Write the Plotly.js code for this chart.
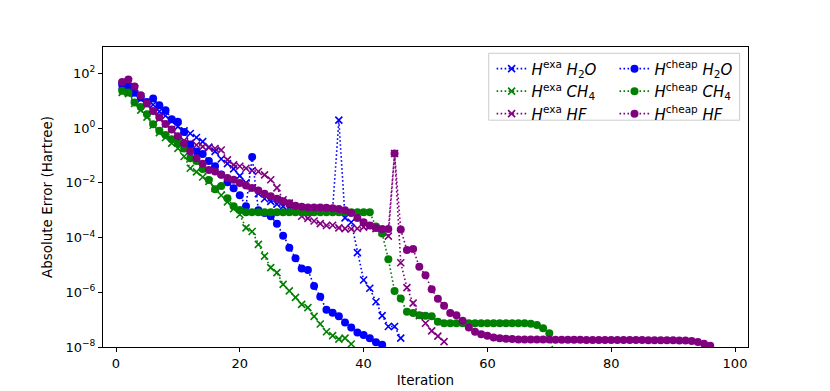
<!DOCTYPE html>
<html>
<head>
<meta charset="utf-8">
<script src="https://cdn.plot.ly/plotly-3.0.1.min.js"></script>
<style>
  html, body { margin: 0; padding: 0; background: #fff; }
  #chart { width: 830px; height: 391px; }
</style>
</head>
<body>
<div id="chart"></div>
<script>
// absolute error per iteration (starts at iteration 1)
var exaH2O = [35, 32, 17.8, 11.2, 7.9, 7.1, 4.0, 2.8, 1.78, 1.12,
  0.79, 0.63, 0.45, 0.32, 0.2, 0.14, 0.074, 0.05, 0.032, 0.0178,
  0.01, 0.0063, 0.004, 0.0026, 0.0021, 0.00166, 0.00138, 0.00126, 0.0012, 0.00117,
  0.00115, 0.00112, 0.0011, 0.00107, 0.00105, 1.95, 5.2e-4, 3.6e-4, 2.8e-5, 2.8e-6,
  1.4e-6, 4.5e-7, 1.4e-7, 5.6e-8, 5.6e-8, 2.1e-8];

var exaCH4 = [20, 17.8, 7.9, 4.5, 2.5, 1.26, 0.68, 0.45, 0.28, 0.18,
  0.091, 0.034, 0.025, 0.0162, 0.0112, 0.0063, 0.0035, 0.002, 0.00112, 6.9e-4,
  2.24e-4, 1.66e-4, 5.6e-5, 2.1e-5, 7.9e-6, 5.2e-6, 1.95e-6, 1.12e-6, 6.5e-7, 3.6e-7,
  2.75e-7, 1.32e-7, 6.9e-8, 3.6e-8, 2.6e-8, 1.95e-8, 2.1e-8, 1.29e-8];

var exaHF = [40, 50, 28, 14, 7.1, 4.0, 2.2, 1.4, 0.89, 0.5,
  0.35, 0.28, 0.24, 0.21, 0.19, 0.178, 0.158, 0.069, 0.045, 0.04,
  0.034, 0.028, 0.0257, 0.0195, 0.0129, 0.0065, 0.0024, 0.0018, 9.1e-4, 6.0e-4,
  5.0e-4, 4.0e-4, 3.2e-4, 2.75e-4, 2.8e-4, 2.24e-4, 2.1e-4, 2.04e-4, 2.14e-4, 2.4e-4,
  2.6e-4, 2.1e-4, 1.58e-4, 1.12e-4, 0.117, 1.2e-5, 1.48e-6, 4.0e-7, 1.38e-7, 7.4e-8,
  3.9e-8, 2.5e-8, 1.58e-8];

var cheapH2O = [40, 36, 19.5, 12.9, 8.9, 12, 6.8, 4.5, 2.1, 1.7,
  0.72, 0.25, 0.138, 0.112, 0.063, 0.04, 0.02, 0.0105, 0.0063, 0.0035,
  0.0014, 0.087, 1.0e-3, 7.9e-4, 6.0e-4, 3.2e-4, 1.17e-4, 4.2e-5, 1.74e-5, 7.4e-6,
  6.5e-6, 1.7e-6, 6.8e-7, 2.3e-7, 1.8e-7, 1.32e-7, 7.9e-8, 5.2e-8, 3.4e-8, 2.75e-8,
  2.1e-8, 1.48e-8, 1.2e-8];

var cheapCH4 = [23, 20, 8.5, 5.9, 3.2, 1.38, 0.79, 0.56, 0.39, 0.275,
  0.18, 0.079, 0.063, 0.032, 0.0126, 0.0058, 0.0076, 0.0027, 0.0014, 1.02e-3,
  8.3e-4, 8.3e-4, 8.3e-4, 8.3e-4, 8.3e-4, 8.3e-4, 8.3e-4, 8.3e-4, 8.3e-4, 8.3e-4,
  8.3e-4, 8.3e-4, 8.3e-4, 8.3e-4, 8.3e-4, 8.3e-4, 8.3e-4, 8.3e-4, 8.3e-4, 8.3e-4,
  8.3e-4, 2.5e-4, 1.4e-4, 1.6e-5, 1.12e-6, 5.9e-7, 1.95e-7, 1.74e-7, 1.45e-7, 1.38e-7,
  1.32e-7, 8.3e-8, 7.4e-8, 7.4e-8, 7.4e-8, 7.4e-8, 7.4e-8, 7.4e-8, 7.4e-8, 7.4e-8,
  7.4e-8, 7.4e-8, 7.4e-8, 7.4e-8, 7.4e-8, 7.4e-8, 7.1e-8, 6.3e-8, 4.8e-8, 3.2e-8,
  3e-9];

var cheapHF = [48, 59, 33, 15.8, 7.9, 4.2, 2.5, 1.4, 0.89, 0.5,
  0.275, 0.138, 0.079, 0.049, 0.0295, 0.0257, 0.0195, 0.0148, 0.0129, 0.0098,
  0.0079, 0.0065, 0.0052, 0.004, 0.0032, 0.0026, 0.0021, 0.0018, 0.00145, 0.00132,
  0.00126, 0.00126, 0.00125, 0.00123, 0.00117, 0.0011, 0.001, 7.9e-4, 5.2e-4, 3.6e-4,
  2.75e-4, 2.24e-4, 2.04e-4, 2.04e-4, 0.117, 1.95e-4, 3.5e-5, 3.8e-5, 8.5e-6, 4.2e-6,
  1.29e-6, 5.8e-7, 3.2e-7, 1.74e-7, 1.45e-7, 9.1e-8, 5.2e-8, 3.6e-8, 2.95e-8, 2.6e-8,
  2.24e-8, 2.1e-8, 2.0e-8, 1.95e-8, 1.86e-8, 1.86e-8, 1.86e-8, 1.86e-8, 1.86e-8, 1.86e-8,
  1.84e-8, 1.84e-8, 1.84e-8, 1.84e-8, 1.84e-8, 1.82e-8, 1.82e-8, 1.82e-8, 1.82e-8, 1.82e-8,
  1.8e-8, 1.8e-8, 1.8e-8, 1.8e-8, 1.8e-8, 1.78e-8, 1.78e-8, 1.78e-8, 1.78e-8, 1.76e-8,
  1.74e-8, 1.72e-8, 1.66e-8, 1.51e-8, 1.32e-8, 1.1e-8];

var xTicks = [0, 20, 40, 60, 80, 100];
var yTicks = [1e-8, 1e-6, 1e-4, 1e-2, 1, 1e2];
var yTickText = ['10<sup>\u22128</sup>', '10<sup>\u22126</sup>', '10<sup>\u22124</sup>',
  '10<sup>\u22122</sup>', '10<sup>0</sup>', '10<sup>2</sup>'];

var BLUE = '#0000ff', GREEN = '#008000', PURPLE = '#800080';
var FONT = 'DejaVu Sans, Verdana, sans-serif';

function iters(vals) {
  var out = [];
  for (var i = 0; i < vals.length; i++) out.push(i + 1);
  return out;
}

function exaTrace(vals, color, name) {
  return {
    x: iters(vals), y: vals, name: name, legend: 'legend',
    type: 'scatter', mode: 'lines+markers', cliponaxis: true,
    line: {color: color, width: 1.6, dash: '1.6px,2.4px'},
    marker: {symbol: 'x-thin', size: 7, color: color, line: {color: color, width: 1.6}}
  };
}

function cheapTrace(vals, color, name) {
  return {
    x: iters(vals), y: vals, name: name, legend: 'legend2',
    type: 'scatter', mode: 'lines+markers', cliponaxis: true,
    line: {color: color, width: 1.6, dash: '1.6px,2.4px'},
    marker: {symbol: 'circle', size: 8, color: color, line: {width: 0}}
  };
}

var data = [
  exaTrace(exaH2O, BLUE, '<i>H</i><sup>exa</sup> <i>H</i><sub>2</sub><i>O</i>'),
  exaTrace(exaCH4, GREEN, '<i>H</i><sup>exa</sup> <i>CH</i><sub>4</sub>'),
  exaTrace(exaHF, PURPLE, '<i>H</i><sup>exa</sup> <i>HF</i>'),
  cheapTrace(cheapH2O, BLUE, '<i>H</i><sup>cheap</sup> <i>H</i><sub>2</sub><i>O</i>'),
  cheapTrace(cheapCH4, GREEN, '<i>H</i><sup>cheap</sup> <i>CH</i><sub>4</sub>'),
  cheapTrace(cheapHF, PURPLE, '<i>H</i><sup>cheap</sup> <i>HF</i>')
];

var axisCommon = {
  showline: true, linecolor: '#000', linewidth: 1, mirror: true,
  ticks: 'outside', ticklen: 4, tickwidth: 1, tickcolor: '#000',
  showgrid: false, zeroline: false,
  tickfont: {family: FONT, size: 13, color: '#000'}
};

var layout = {
  width: 830, height: 391,
  margin: {l: 103, r: 82, t: 47, b: 44},
  paper_bgcolor: '#fff', plot_bgcolor: '#fff',
  font: {family: FONT, size: 13, color: '#000'},
  showlegend: true,
  xaxis: Object.assign({}, axisCommon, {
    range: [-2.1, 102.1], tickvals: xTicks,
    title: {text: 'Iteration', font: {family: FONT, size: 13.5}, standoff: 5}
  }),
  yaxis: Object.assign({}, axisCommon, {
    type: 'log', range: [-8, 2.96], tickvals: yTicks, ticktext: yTickText,
    title: {text: 'Absolute Error (Hartree)', font: {family: FONT, size: 13.5}, standoff: 9}
  }),
  legend: {
    x: 0.6025, y: 0.982, xanchor: 'left', yanchor: 'top',
    bgcolor: 'rgba(0,0,0,0)', borderwidth: 0, tracegroupgap: 0,
    font: {family: FONT, size: 15, color: '#000'}
  },
  legend2: {
    x: 0.793, y: 0.982, xanchor: 'left', yanchor: 'top',
    bgcolor: 'rgba(0,0,0,0)', borderwidth: 0, tracegroupgap: 0,
    font: {family: FONT, size: 15, color: '#000'}
  },
  shapes: [{
    type: 'rect', xref: 'paper', yref: 'paper', layer: 'above',
    x0: 0.598, x1: 0.987, y0: 0.756, y1: 0.979,
    line: {color: '#cccccc', width: 1}, fillcolor: 'rgba(255,255,255,0.8)'
  }]
};

Plotly.newPlot('chart', data, layout, {displayModeBar: false, staticPlot: true});
</script>
</body>
</html>
